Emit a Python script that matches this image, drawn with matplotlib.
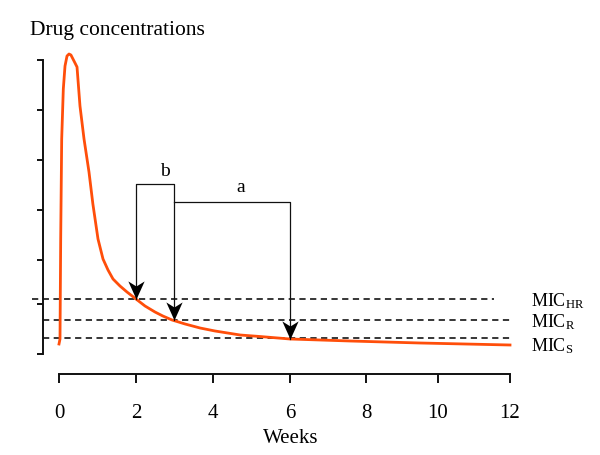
import numpy as np
import matplotlib
matplotlib.use("Agg")
import matplotlib.pyplot as plt
from matplotlib.path import Path

plt.rcParams['font.family'] = ['Liberation Serif', 'DejaVu Serif']
plt.rcParams['mathtext.fontset'] = 'custom'
plt.rcParams['mathtext.rm'] = 'Liberation Serif'
plt.rcParams['mathtext.it'] = 'Liberation Serif:italic'
plt.rcParams['lines.scale_dashes'] = False

# ---- data ----
weeks = [0.0, 0.026, 0.044, 0.070, 0.112, 0.156, 0.208, 0.26, 0.31, 0.416, 0.468,
         0.545, 0.65, 0.779, 0.88, 1.013, 1.143, 1.273, 1.403, 1.584, 1.766,
         2.0, 2.235, 2.495, 2.70, 2.94, 3.28, 3.67, 4.06, 4.71, 5.22,
         6.0, 7.58, 9.5, 12.0]
conc = [0.2, 0.3, 2.3, 4.3, 5.3, 5.76, 5.96, 6.0, 5.98, 5.82, 5.74,
        4.96, 4.30, 3.64, 3.0, 2.3, 1.9, 1.68, 1.5, 1.36, 1.24,
        1.1, 0.96, 0.84, 0.76, 0.68, 0.6, 0.52, 0.46, 0.38, 0.35,
        0.3, 0.26, 0.22, 0.18]

mic_names = ['HR', 'R', 'S']
mic_levels = [1.1, 0.68, 0.32]

xticks = [0, 2, 4, 6, 8, 10, 12]
yticks = [0, 1.0, 1.88, 2.88, 3.88, 4.88, 5.88]

# bracket annotations (weeks where the MIC is crossed)
b_start, b_end, a_end = 2, 3, 6
b_height, a_height = 3.4, 3.04

# ---- axis scale (schematic, slightly uneven tick spacing in the original) ----
W = np.array([-2, 0, 2, 4, 6, 8, 10, 12, 14], float)
P = np.array([-18, 59, 136, 212.7, 290, 366, 438, 510, 582], float)
fwd = lambda w: np.interp(w, W, P)
inv = lambda p: np.interp(p, P, W)

fig = plt.figure(figsize=(6, 4.56), dpi=100)
H = 456.0
ax = fig.add_axes([43/600, (H-375)/H, (520-43)/600, (375-40)/H])
ax.set_xscale('function', functions=(fwd, inv))
ax.set_xlim(inv(43), inv(520))
ax.set_ylim(-0.4, 6.3)

for s in ['top', 'right']:
    ax.spines[s].set_visible(False)
ax.spines['left'].set_bounds(0, 5.88)
ax.spines['bottom'].set_bounds(0, 12)
for s in ['left', 'bottom']:
    ax.spines[s].set_linewidth(1.4)
    ax.spines[s].set_color('#111111')

ax.set_xticks(xticks)
ax.set_xticklabels([str(t) for t in xticks])
ax.xaxis.set_minor_locator(matplotlib.ticker.NullLocator())
ax.set_yticks(yticks)
ax.set_yticklabels([])
ax.tick_params(axis='x', length=6.5, width=1.4, color='#111111', pad=14.5, labelsize=15)
ax.tick_params(axis='y', length=4.3, width=1.4, color='#111111')

# MIC dashed lines
x_starts = [inv(32), inv(43), inv(43)]
x_ends = [inv(494), 12, 12]
for lvl, xs, xe in zip(mic_levels, x_starts, x_ends):
    ax.plot([xs, xe], [lvl, lvl], color='black', lw=1.1, dashes=(4.5, 3.2), clip_on=False, zorder=2)

# concentration curve
ax.plot(weeks, conc, color='#FF4E0A', lw=2.0, solid_joinstyle='round', zorder=3, clip_on=False)

# brackets
lc = '#111111'
ax.plot([b_start, b_start, b_end, b_end], [mic_levels[0], b_height, b_height, mic_levels[1]],
        color=lc, lw=0.9, zorder=4)
s_at_6 = conc[weeks.index(6.0)]
ax.plot([b_end, a_end, a_end], [a_height, a_height, s_at_6], color=lc, lw=0.9, zorder=4)

# stealth-style arrowheads (tip at the data point, pointing down)
head = Path([(0, 0), (-0.45, 1.0), (0, 0.72), (0.45, 1.0), (0, 0)],
            [Path.MOVETO, Path.LINETO, Path.LINETO, Path.LINETO, Path.CLOSEPOLY])
ax.plot([b_start, b_end, a_end], [mic_levels[0], mic_levels[1], s_at_6], linestyle='none',
        marker=head, markersize=26, color='black', markeredgewidth=0, zorder=5)

ax.text(2.76, 3.58, 'b', fontsize=14, ha='center', va='baseline')
ax.text(4.73, 3.27, 'a', fontsize=14, ha='center', va='baseline')

# texts
fig.text(30/600, 1-35/H, 'Drug concentrations', fontsize=15.5, ha='left', va='baseline')
fig.text(291/600, 1-443/H, 'Weeks', fontsize=15, ha='center', va='baseline')
for name, yb in zip(mic_names, [306.5, 327.5, 351]):
    fig.text(531/600, 1-yb/H, r'MIC$_{\mathrm{%s}}$' % name, fontsize=13, ha='left', va='baseline')

fig.savefig('out.png', dpi=100)
